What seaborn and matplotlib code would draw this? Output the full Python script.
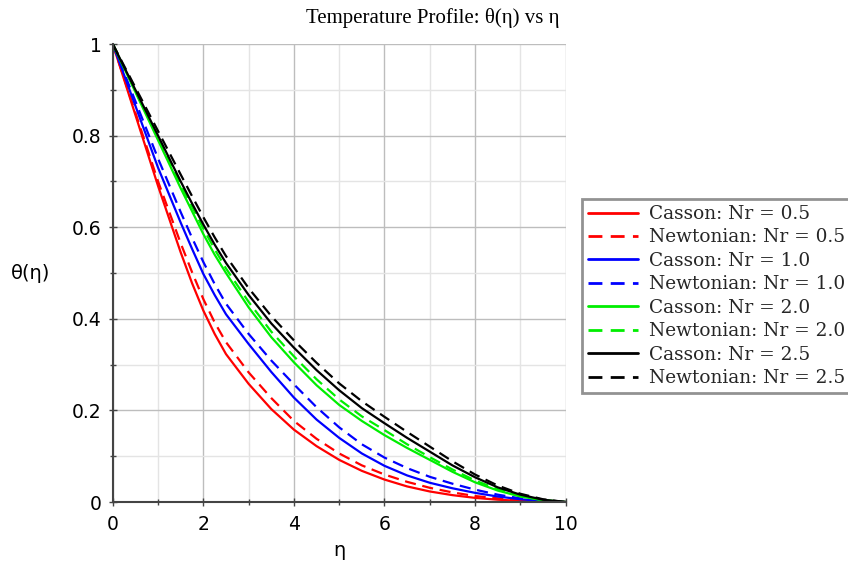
import numpy as np
import pandas as pd
import seaborn as sns
import matplotlib
matplotlib.use("Agg")
import matplotlib.pyplot as plt
from matplotlib.ticker import MultipleLocator

eta = [0, 0.5, 1, 1.5, 1.75, 2, 2.25, 2.5, 3, 3.5, 4, 4.5, 5, 5.5, 6, 6.5, 7, 7.5, 8, 8.5, 9, 9.5, 10]

casson_05 = [1, 0.845, 0.69, 0.545, 0.478, 0.418, 0.367, 0.323, 0.258, 0.203, 0.158, 0.122, 0.092, 0.068, 0.049, 0.034, 0.023, 0.015, 0.009, 0.005, 0.0025, 0.001, 0]
newton_05 = [1, 0.85, 0.70, 0.565, 0.502, 0.443, 0.392, 0.349, 0.283, 0.227, 0.177, 0.138, 0.106, 0.08, 0.06, 0.044, 0.031, 0.021, 0.013, 0.008, 0.004, 0.0015, 0]
casson_10 = [1, 0.865, 0.73, 0.61, 0.553, 0.498, 0.452, 0.41, 0.345, 0.284, 0.228, 0.18, 0.14, 0.106, 0.079, 0.058, 0.042, 0.03, 0.02, 0.012, 0.006, 0.002, 0]
newton_10 = [1, 0.875, 0.75, 0.633, 0.577, 0.524, 0.476, 0.433, 0.367, 0.309, 0.257, 0.207, 0.163, 0.126, 0.097, 0.074, 0.055, 0.04, 0.027, 0.016, 0.008, 0.003, 0]
casson_20 = [1, 0.895, 0.79, 0.685, 0.635, 0.585, 0.54, 0.50, 0.425, 0.36, 0.305, 0.255, 0.212, 0.177, 0.146, 0.118, 0.092, 0.066, 0.043, 0.025, 0.012, 0.004, 0]
newton_20 = [1, 0.897, 0.795, 0.693, 0.645, 0.597, 0.552, 0.51, 0.437, 0.372, 0.318, 0.268, 0.224, 0.187, 0.157, 0.126, 0.098, 0.071, 0.047, 0.028, 0.013, 0.004, 0]
casson_25 = [1, 0.90, 0.80, 0.70, 0.652, 0.606, 0.562, 0.522, 0.452, 0.39, 0.337, 0.288, 0.244, 0.205, 0.172, 0.14, 0.11, 0.08, 0.054, 0.032, 0.016, 0.005, 0]
newton_25 = [1, 0.905, 0.81, 0.715, 0.668, 0.622, 0.578, 0.537, 0.467, 0.406, 0.353, 0.304, 0.259, 0.22, 0.186, 0.153, 0.121, 0.089, 0.06, 0.036, 0.018, 0.006, 0]

labels = ["Casson: Nr = 0.5", "Newtonian: Nr = 0.5",
          "Casson: Nr = 1.0", "Newtonian: Nr = 1.0",
          "Casson: Nr = 2.0", "Newtonian: Nr = 2.0",
          "Casson: Nr = 2.5", "Newtonian: Nr = 2.5"]
series = [casson_05, newton_05, casson_10, newton_10, casson_20, newton_20, casson_25, newton_25]
colors = ["#ff0000", "#ff0000", "#0000ff", "#0000ff", "#00ee00", "#00ee00", "#000000", "#000000"]

rows = []
for lab, vals in zip(labels, series):
    for x, y in zip(eta, vals):
        rows.append({"eta": x, "theta": y, "curve": lab})
df = pd.DataFrame(rows)

sns.set_theme(style="white")
fig = plt.figure(figsize=(8.48, 5.65), dpi=100)
ax = fig.add_axes([0.133, 0.1115, 0.534, 0.8105])

palette = dict(zip(labels, colors))
dashes = {lab: ("" if lab.startswith("Casson") else (5, 3)) for lab in labels}
sns.lineplot(data=df, x="eta", y="theta", hue="curve", style="curve",
             palette=palette, dashes=dashes, hue_order=labels, style_order=labels,
             linewidth=1.6, ax=ax, legend=True)

ax.set_xlim(0, 10)
ax.set_ylim(0, 1)
ax.xaxis.set_minor_locator(MultipleLocator(1))
ax.yaxis.set_minor_locator(MultipleLocator(0.1))
ax.set_yticks([0, 0.2, 0.4, 0.6, 0.8, 1.0])
ax.set_yticklabels(["0", "0.2", "0.4", "0.6", "0.8", "1"])
ax.set_xticks([0, 2, 4, 6, 8, 10])
ax.set_xticklabels(["0", "2", "4", "6", "8", "10"])
ax.grid(which="major", color="#bdbdbd", linewidth=1.0)
ax.grid(which="minor", color="#e4e4e4", linewidth=1.0)
ax.set_axisbelow(True)
for s in ["top", "right"]:
    ax.spines[s].set_visible(False)
for s in ["left", "bottom"]:
    ax.spines[s].set_color("#444444")
    ax.spines[s].set_linewidth(1.5)
ax.tick_params(which="major", direction="inout", length=6, width=1, color="#444444",
               labelsize=13.5, labelcolor="black", left=True, bottom=True, pad=5)
ax.tick_params(axis="x", which="major", pad=6)
ax.tick_params(which="minor", direction="inout", length=4, width=1, color="#444444",
               left=True, bottom=True)

ax.set_xlabel("η", fontsize=14, color="black", va="center")
ax.set_ylabel("θ(η)", fontsize=14, rotation=0, color="black", ha="center", va="center")
ax.yaxis.set_label_coords(-0.181, 0.5)
ax.xaxis.set_label_coords(0.5, -0.105)

fig.text(0.51, 0.968, "Temperature Profile: θ(η) vs η", ha="center", va="center",
         fontsize=15, family="Liberation Serif", color="black")

leg = ax.legend(loc="upper left", bbox_to_anchor=(0.686, 0.648), bbox_transform=fig.transFigure,
                prop={"family": "DejaVu Serif", "size": 13.3}, frameon=True, fancybox=False,
                handlelength=2.7, handletextpad=0.6, labelspacing=0.295, borderpad=0.33,
                borderaxespad=0, title=None)
leg.get_frame().set_edgecolor("#777777")
leg.get_frame().set_linewidth(2)
for h in leg.get_lines():
    h.set_linewidth(2)

fig.savefig("out.png", dpi=100)
